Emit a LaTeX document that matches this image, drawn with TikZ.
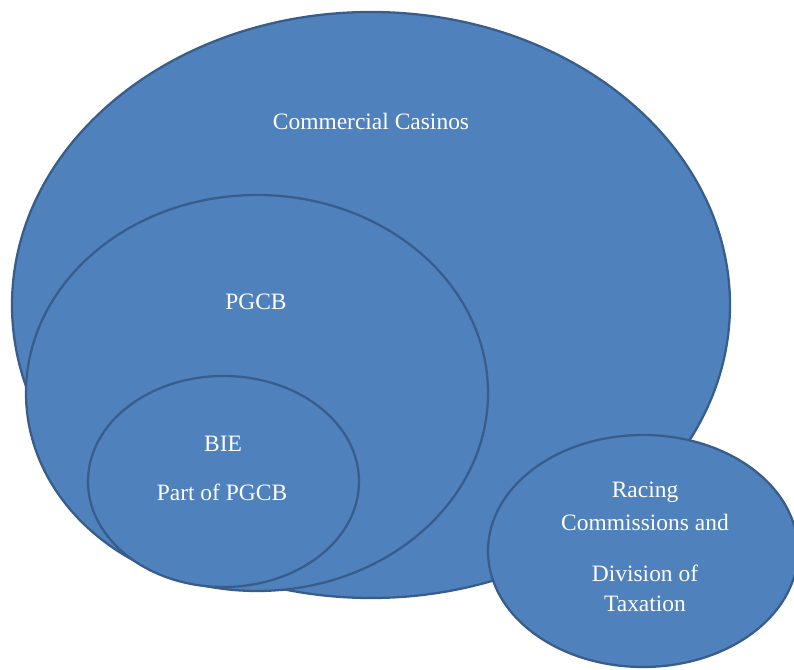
\documentclass[tikz,border=0pt]{standalone}
\usepackage{fontspec}
\setmainfont{Liberation Serif}
\usetikzlibrary{shapes.geometric}
\definecolor{setfill}{HTML}{4F81BD}
\definecolor{setline}{HTML}{385D8A}
\tikzstyle{setnd}=[ellipse,draw=setline,fill=setfill,line width=1.7pt,inner sep=0pt]
\tikzstyle{lbl}=[text=white,inner sep=0pt,font=\fontsize{17.6}{21}\selectfont]

\begin{document}
\begin{tikzpicture}[x=0.75pt,y=-0.75pt]
\useasboundingbox (0,0) rectangle (794,670);
\clip (0,0) rectangle (794,670);
\node[setnd,minimum width=538.5pt,minimum height=439.5pt] (casinos) at (371,305) {};
\node[setnd,minimum width=346.5pt,minimum height=297pt] (pgcb) at (257,393) {};
\node[setnd,minimum width=203.25pt,minimum height=158.25pt] (bie) at (223.5,481.5) {};
\node[setnd,minimum width=232.5pt,minimum height=174pt] (racing) at (643,551) {};
\node[lbl] (casinostxt) at (371,121) {Commercial Casinos};
\node[lbl] (pgcbtxt) at (256,302) {PGCB};
\node[lbl] (bietxt) at (223,444) {BIE};
\node[lbl] (parttxt) at (222,492) {Part of PGCB};
\node[lbl] (racingtxt) at (645,492) {Racing};
\node[lbl] (commtxt) at (645,522) {Commissions and};
\node[lbl] (divtxt) at (645,573) {Division of};
\node[lbl] (taxtxt) at (645,604) {Taxation};
\end{tikzpicture}
\end{document}
